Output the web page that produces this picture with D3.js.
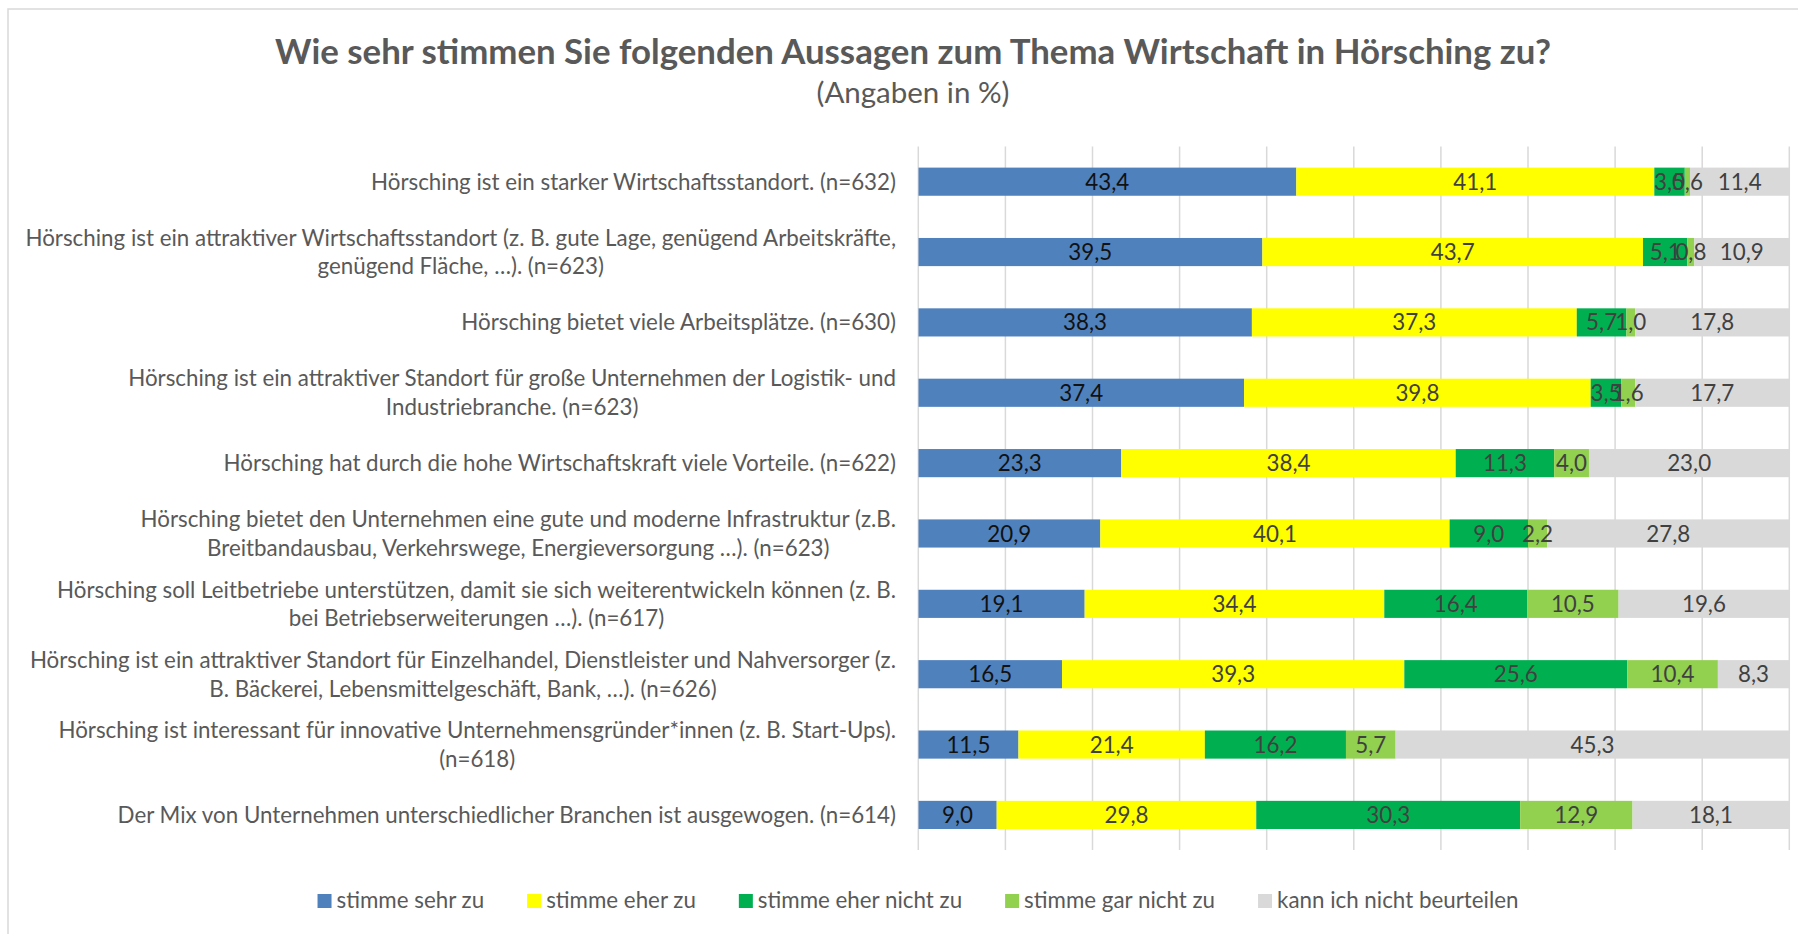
<!DOCTYPE html>
<html>
<head>
<meta charset="utf-8">
<script src="https://cdn.jsdelivr.net/npm/d3@7"></script>
<style>
  html, body { margin: 0; padding: 0; background: #ffffff; }
  svg { display: block; font-family: Lato, "Noto Sans", sans-serif; }
</style>
</head>
<body>
<svg id="chart" width="1798" height="934"></svg>
<script>
// Statements (each entry = the lines of its axis label)
const statements = [
  ["Hörsching ist ein starker Wirtschaftsstandort. (n=632)"],
  ["Hörsching ist ein attraktiver Wirtschaftsstandort (z. B. gute Lage, genügend Arbeitskräfte,", "genügend Fläche, …). (n=623)"],
  ["Hörsching bietet viele Arbeitsplätze. (n=630)"],
  ["Hörsching ist ein attraktiver Standort für große Unternehmen der Logistik- und", "Industriebranche. (n=623)"],
  ["Hörsching hat durch die hohe Wirtschaftskraft viele Vorteile. (n=622)"],
  ["Hörsching bietet den Unternehmen eine gute und moderne Infrastruktur (z.B.", "Breitbandausbau, Verkehrswege, Energieversorgung …). (n=623)"],
  ["Hörsching soll Leitbetriebe unterstützen, damit sie sich weiterentwickeln können (z. B.", "bei Betriebserweiterungen …). (n=617)"],
  ["Hörsching ist ein attraktiver Standort für Einzelhandel, Dienstleister und Nahversorger (z.", "B. Bäckerei, Lebensmittelgeschäft, Bank, …). (n=626)"],
  ["Hörsching ist interessant für innovative Unternehmensgründer*innen (z. B. Start-Ups).", "(n=618)"],
  ["Der Mix von Unternehmen unterschiedlicher Branchen ist ausgewogen. (n=614)"]
];

const seriesNames = ["stimme sehr zu", "stimme eher zu", "stimme eher nicht zu", "stimme gar nicht zu", "kann ich nicht beurteilen"];
const seriesColors = ["#4f81bd", "#ffff00", "#00b050", "#92d050", "#d9d9d9"];
const labelColors = ["#111111", "#404040", "#404040", "#404040", "#404040"];

// Percentages per answer, in statement order
const sehrZu          = [43.4, 39.5, 38.3, 37.4, 23.3, 20.9, 19.1, 16.5, 11.5, 9.0];
const eherZu          = [41.1, 43.7, 37.3, 39.8, 38.4, 40.1, 34.4, 39.3, 21.4, 29.8];
const eherNichtZu     = [3.5, 5.1, 5.7, 3.5, 11.3, 9.0, 16.4, 25.6, 16.2, 30.3];
const garNichtZu      = [0.6, 0.8, 1.0, 1.6, 4.0, 2.2, 10.5, 10.4, 5.7, 12.9];
const nichtBeurteilen = [11.4, 10.9, 17.8, 17.7, 23.0, 27.8, 19.6, 8.3, 45.3, 18.1];

const gridTicks = [0, 10, 20, 30, 40, 50, 60, 70, 80, 90, 100];

const titleText = "Wie sehr stimmen Sie folgenden Aussagen zum Thema Wirtschaft in Hörsching zu?";
const subtitleText = "(Angaben in %)";

// ---- layout ----
const plot = { left: 918.3, right: 1789.3, top: 146.5, bottom: 850.1 };
const labelRight = 896;
const fontSize = 22.35;

const svg = d3.select("#chart");

// outer chart frame
svg.append("rect")
  .attr("x", 8).attr("y", 9)
  .attr("width", 2000).attr("height", 2000)
  .attr("fill", "#ffffff")
  .attr("stroke", "#d9d9d9").attr("stroke-width", 1.5);

// title + subtitle
svg.append("text")
  .attr("x", 913).attr("y", 64)
  .attr("text-anchor", "middle")
  .attr("font-size", 34.8).attr("font-weight", 700)
  .attr("fill", "#595959")
  .text(titleText);

svg.append("text")
  .attr("x", 913).attr("y", 103)
  .attr("text-anchor", "middle")
  .attr("font-size", 29.5)
  .attr("fill", "#595959")
  .text(subtitleText);

// data rows
const keys = seriesNames;
const columns = [sehrZu, eherZu, eherNichtZu, garNichtZu, nichtBeurteilen];
const rows = statements.map((s, i) => {
  const r = { idx: i };
  keys.forEach((k, j) => { r[k] = columns[j][i]; });
  return r;
});
const stacked = d3.stack().keys(keys)(rows);

const x = d3.scaleLinear().domain([0, 100]).range([plot.left, plot.right]);
const y = d3.scaleBand()
  .domain(d3.range(statements.length))
  .range([plot.top, plot.bottom])
  .paddingInner(0.6).paddingOuter(0.3);
const color = d3.scaleOrdinal().domain(keys).range(seriesColors);

const deLocale = d3.formatLocale({ decimal: ",", thousands: ".", grouping: [3], currency: ["", " €"] });
const fmt = deLocale.format(".1f");

// vertical gridlines
svg.append("g")
  .selectAll("line")
  .data(gridTicks)
  .join("line")
  .attr("x1", d => x(d)).attr("x2", d => x(d))
  .attr("y1", plot.top).attr("y2", plot.bottom)
  .attr("stroke", "#d9d9d9").attr("stroke-width", 1.5);

// clip for bars running a hair over 100 %
svg.append("clipPath").attr("id", "plotClip")
  .append("rect")
  .attr("x", plot.left).attr("y", plot.top)
  .attr("width", plot.right - plot.left).attr("height", plot.bottom - plot.top);

const barLayer = svg.append("g").attr("clip-path", "url(#plotClip)");
barLayer.selectAll("g")
  .data(stacked)
  .join("g")
  .attr("fill", d => color(d.key))
  .selectAll("rect")
  .data(d => d)
  .join("rect")
  .attr("x", d => x(d[0]))
  .attr("y", d => y(d.data.idx))
  .attr("width", d => Math.max(0, x(d[1]) - x(d[0])))
  .attr("height", y.bandwidth());

// segment value labels
const labelLayer = svg.append("g")
  .attr("font-size", fontSize)
  .attr("text-anchor", "middle");
stacked.forEach((layer, j) => {
  labelLayer.append("g")
    .attr("fill", labelColors[j])
    .selectAll("text")
    .data(layer)
    .join("text")
    .attr("x", d => (x(d[0]) + Math.min(x(d[1]), plot.right)) / 2)
    .attr("y", d => y(d.data.idx) + y.bandwidth() / 2)
    .attr("dy", "0.36em")
    .text(d => fmt(d.data[layer.key]));
});

// category labels (multi-line labels centred on each other, block right-aligned)
const catLayer = svg.append("g")
  .attr("font-size", fontSize)
  .attr("fill", "#595959");
const lineGap = 28.7;
statements.forEach((lines, i) => {
  const cy = y(i) + y.bandwidth() / 2;
  const g = catLayer.append("g");
  const texts = lines.map((ln, k) =>
    g.append("text")
      .attr("y", cy + (k - (lines.length - 1) / 2) * lineGap)
      .attr("dy", "0.36em")
      .text(ln));
  const widths = texts.map(t => t.node().getComputedTextLength());
  const maxW = d3.max(widths);
  if (lines.length === 1) {
    texts[0].attr("x", labelRight).attr("text-anchor", "end");
  } else {
    texts.forEach(t => t.attr("x", labelRight - maxW / 2).attr("text-anchor", "middle"));
  }
});

// legend
const legend = svg.append("g").attr("font-size", fontSize).attr("fill", "#595959");
const swatch = 14, swGap = 5, itemGap = 43, legendBaseline = 908, legendCenter = 918;
const items = keys.map((k, j) => {
  const g = legend.append("g");
  g.append("rect")
    .attr("width", swatch).attr("height", swatch)
    .attr("y", legendBaseline - swatch)
    .attr("fill", seriesColors[j]);
  const t = g.append("text")
    .attr("x", swatch + swGap)
    .attr("y", legendBaseline)
    .text(k);
  return { g, w: swatch + swGap + t.node().getComputedTextLength() };
});
const totalW = d3.sum(items, d => d.w) + itemGap * (items.length - 1);
let cx = legendCenter - totalW / 2;
items.forEach(it => {
  it.g.attr("transform", `translate(${cx},0)`);
  cx += it.w + itemGap;
});
</script>
</body>
</html>
